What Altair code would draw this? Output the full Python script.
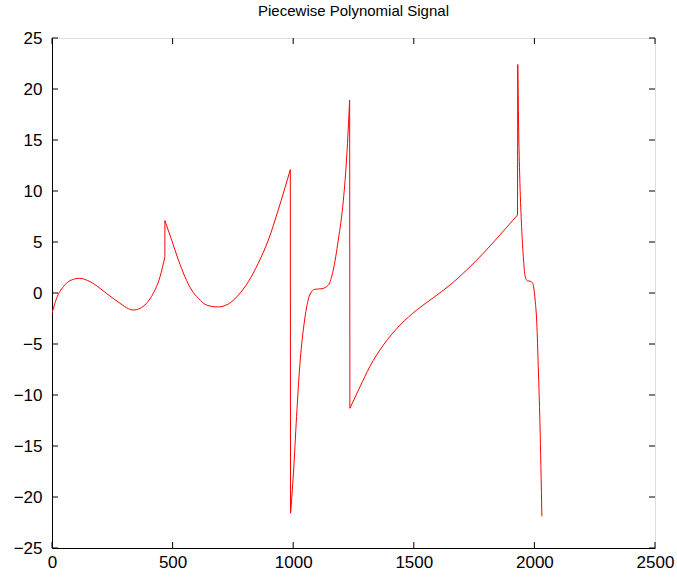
import altair as alt
import pandas as pd

# Smooth pieces of the signal (x = sample index)
piece_x = [
    [0, 19, 47, 75, 113, 158, 199, 240, 282, 317, 337, 365, 392, 420, 448, 468],
    [468, 496, 524, 551, 579, 607, 641, 687, 731, 773, 814, 855, 897, 938, 988],
    [989, 1001, 1014, 1028, 1042, 1056, 1070, 1090, 1118, 1146, 1166, 1187, 1208, 1222, 1234],
    [1235, 1277, 1318, 1374, 1443, 1512, 1581, 1650, 1719, 1788, 1857, 1930],
    [1931, 1935, 1940, 1947, 1954, 1962, 1971, 1985, 1993, 2003, 2010, 2016, 2023, 2031],
]
piece_y = [
    [-1.99, -0.52, 0.62, 1.21, 1.44, 1.11, 0.46, -0.29, -1.01, -1.54, -1.67, -1.5, -1.01, -0.03, 1.6, 3.56],
    [7.1, 5.2, 3.24, 1.6, 0.29, -0.52, -1.18, -1.37, -1.08, -0.2, 1.11, 2.91, 5.2, 8.14, 12.1],
    [-21.6, -17.7, -12.1, -6.9, -3.6, -1.34, -0.1, 0.36, 0.42, 0.78, 2.25, 5.2, 9.1, 13.4, 18.9],
    [-11.3, -9.2, -7.2, -5.1, -3.14, -1.67, -0.46, 0.78, 2.25, 3.89, 5.69, 7.65],
    [22.4, 15.7, 10.75, 6.5, 3.56, 1.6, 1.2, 1.14, 0.95, -0.69, -2.97, -7.2, -12.8, -21.9],
]

x_ticks = [0, 500, 1000, 1500, 2000, 2500]
y_ticks = [-25, -20, -15, -10, -5, 0, 5, 10, 15, 20, 25]

FONT = "Liberation Sans"
W, H = 603, 510
TL = 6

rows = []
n = 0
for k, (px, py) in enumerate(zip(piece_x, piece_y)):
    for x, y in zip(px, py):
        rows.append({"x": x, "y": y, "seg": f"p{k}", "i": n}); n += 1
    if k + 1 < len(piece_x):  # the jump joining this piece to the next
        rows.append({"x": px[-1], "y": py[-1], "seg": f"j{k}", "i": n}); n += 1
        rows.append({"x": piece_x[k + 1][0], "y": piece_y[k + 1][0], "seg": f"j{k}", "i": n}); n += 1
df = pd.DataFrame(rows)
dfx = pd.DataFrame({"t": x_ticks})
dfy = pd.DataFrame({"t": y_ticks})

xscale = alt.Scale(domain=[0, 2500], nice=False, zero=False)
yscale = alt.Scale(domain=[-25, 25], nice=False, zero=False)
xaxis = alt.Axis(values=x_ticks, ticks=False, grid=False, labelFlush=False,
                 labelFontSize=17, labelFont=FONT, labelColor="black",
                 domainColor="black", labelPadding=6, format="d", title=None)
yaxis = alt.Axis(values=y_ticks, ticks=False, grid=False, labelFlush=False,
                 labelFontSize=17, labelFont=FONT, labelColor="black",
                 domainColor="black", labelPadding=10, format="d", title=None)

line = alt.Chart(df).mark_line(color="#ff0000", strokeWidth=1, interpolate="monotone", clip=True).encode(
    x=alt.X("x:Q", scale=xscale, axis=xaxis),
    y=alt.Y("y:Q", scale=yscale, axis=yaxis),
    detail="seg:N",
    order="i:Q",
)

bt = alt.Chart(dfx).mark_rule(color="black", strokeWidth=1).encode(
    x=alt.X("t:Q", scale=xscale, axis=xaxis), y=alt.value(H), y2=alt.value(H - TL))
tt = alt.Chart(dfx).mark_rule(color="black", strokeWidth=1).encode(
    x=alt.X("t:Q", scale=xscale, axis=xaxis), y=alt.value(0), y2=alt.value(TL))
lt = alt.Chart(dfy).mark_rule(color="black", strokeWidth=1).encode(
    y=alt.Y("t:Q", scale=yscale, axis=yaxis), x=alt.value(0), x2=alt.value(TL))
rt = alt.Chart(dfy).mark_rule(color="black", strokeWidth=1).encode(
    y=alt.Y("t:Q", scale=yscale, axis=yaxis), x=alt.value(W), x2=alt.value(W - TL))

chart = alt.layer(line, bt, tt, lt, rt).properties(
    width=W, height=H,
    title=alt.TitleParams("Piecewise Polynomial Signal", fontSize=15, font=FONT,
                          fontWeight="normal", color="black", anchor="middle", offset=10),
    autosize=alt.AutoSizeParams(type="none"),
    padding={"left": 52, "top": 38, "right": 22, "bottom": 32},
).configure_view(stroke="black", strokeWidth=1).configure(background="white")

chart.save("out.html", embed_options={"renderer": "svg", "actions": False})
